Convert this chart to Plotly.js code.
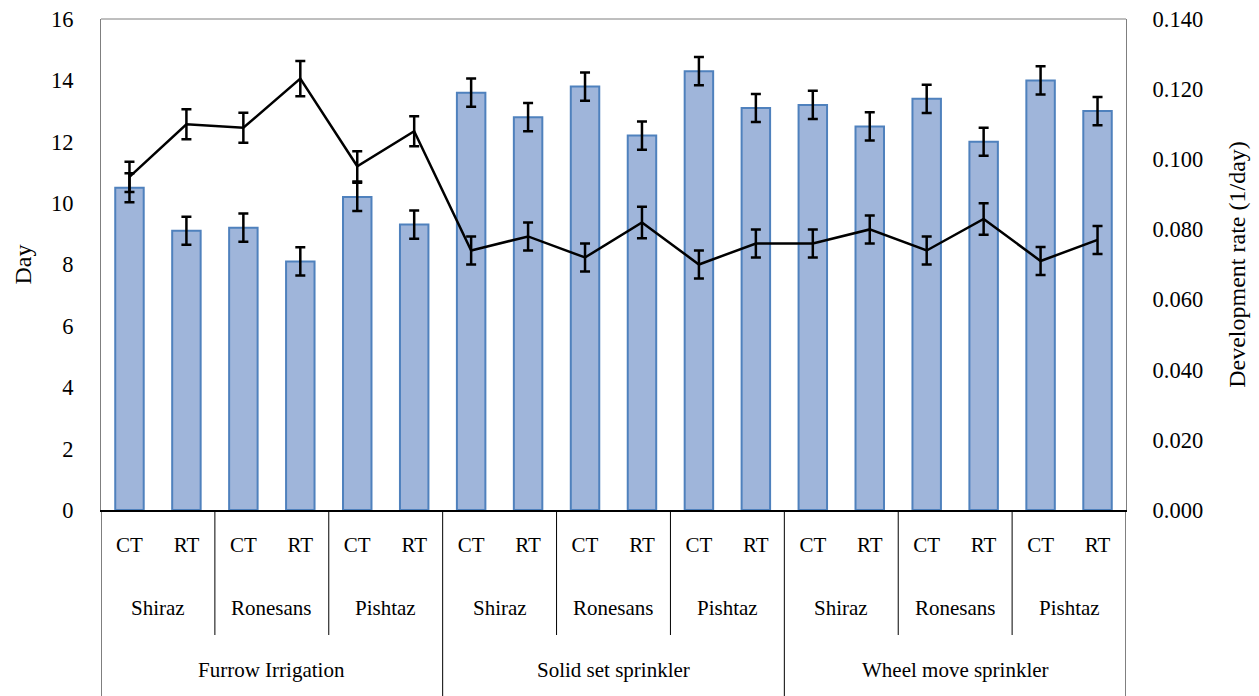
<!DOCTYPE html>
<html>
<head>
<meta charset="utf-8">
<script src="https://cdn.plot.ly/plotly-3.0.1.min.js"></script>
<style>html,body{margin:0;padding:0;background:#fff;}#chart{width:1259px;height:696px;}</style>
</head>
<body>
<div id="chart"></div>
<script>
// ---- data ----
const tillage = ["CT","RT","CT","RT","CT","RT","CT","RT","CT","RT","CT","RT","CT","RT","CT","RT","CT","RT"];
const cultivars = ["Shiraz","Ronesans","Pishtaz","Shiraz","Ronesans","Pishtaz","Shiraz","Ronesans","Pishtaz"];
const irrigation = ["Furrow Irrigation","Solid set sprinkler","Wheel move sprinkler"];
const days = [10.5, 9.1, 9.2, 8.1, 10.2, 9.3, 13.6, 12.8, 13.8, 12.2, 14.3, 13.1, 13.2, 12.5, 13.4, 12.0, 14.0, 13.0];
const daysErr = [0.47, 0.46, 0.46, 0.46, 0.46, 0.46, 0.46, 0.46, 0.46, 0.46, 0.46, 0.46, 0.46, 0.46, 0.46, 0.46, 0.46, 0.46];
const rate = [0.095, 0.110, 0.109, 0.123, 0.098, 0.108, 0.074, 0.078, 0.072, 0.082, 0.070, 0.076, 0.076, 0.080, 0.074, 0.083, 0.071, 0.077];
const rateErr = [0.0043, 0.0043, 0.0043, 0.0050, 0.0043, 0.0043, 0.0040, 0.0040, 0.0040, 0.0045, 0.0040, 0.0040, 0.0040, 0.0040, 0.0040, 0.0045, 0.0040, 0.0040];
const yTicksLeft = [0,2,4,6,8,10,12,14,16];
const yTicksRight = [0,0.02,0.04,0.06,0.08,0.10,0.12,0.14];

const xs = tillage.map((_, i) => i);
const FONT = "Liberation Serif, Times New Roman, serif";
const TICK = 22.5, CAT = 21, TITLE = 24;

const traces = [
  {
    type: "bar", x: xs, y: days, yaxis: "y", width: 0.5,
    marker: {color: "#9FB5DA", line: {color: "#4F81BD", width: 2}},
    error_y: {type: "data", array: daysErr, visible: true, color: "#000", thickness: 2.5, width: 5},
    hoverinfo: "y", showlegend: false
  },
  {
    type: "scatter", mode: "lines", x: xs, y: rate, yaxis: "y2",
    line: {color: "#000", width: 2.5},
    error_y: {type: "data", array: rateErr, visible: true, color: "#000", thickness: 2.5, width: 5},
    showlegend: false
  }
];

// paper-y helpers (plot area: top 19px, bottom 510px)
const plotTop = 19, plotBot = 510, plotH = plotBot - plotTop;
const py = px => (plotBot - px) / plotH;

const shapes = [];
const annotations = [];
const perCult = 2, perIrr = 6;
cultivars.forEach((c, k) => {
  const xc = k * perCult + (perCult - 1) / 2;
  annotations.push({x: xc, y: py(608), xref: "x", yref: "paper", text: c, showarrow: false,
    font: {family: FONT, size: CAT, color: "#000"}, xanchor: "center", yanchor: "middle"});
});
irrigation.forEach((g, k) => {
  const xc = k * perIrr + (perIrr - 1) / 2;
  annotations.push({x: xc, y: py(670), xref: "x", yref: "paper", text: g, showarrow: false,
    font: {family: FONT, size: CAT, color: "#000"}, xanchor: "center", yanchor: "middle"});
});
for (let b = 0; b <= tillage.length; b += perCult) {
  const xb = b - 0.5;
  const full = (b % perIrr === 0);
  shapes.push({type: "line", xref: "x", yref: "paper", x0: xb, x1: xb, y0: 0, y1: full ? py(700) : py(635),
    line: {color: "#000", width: 1}});
}
shapes.push({type: "line", xref: "paper", yref: "paper", x0: 0, x1: 1, y0: 1, y1: 1, line: {color: "#7f7f7f", width: 1}});

const layout = {
  width: 1259, height: 696,
  margin: {l: 101, r: 133, t: 19, b: 186},
  paper_bgcolor: "#fff", plot_bgcolor: "#fff",
  font: {family: FONT, size: TICK, color: "#000"},
  xaxis: {
    range: [-0.5, 17.5], tickmode: "array", tickvals: xs, ticktext: tillage,
    showgrid: false, zeroline: false, showline: true, linecolor: "#000", linewidth: 2,
    ticks: "", ticklabelstandoff: 15, tickfont: {family: FONT, size: CAT, color: "#000"}, fixedrange: true
  },
  yaxis: {
    range: [0, 16], tickmode: "array", tickvals: yTicksLeft,
    showgrid: false, zeroline: false, showline: true, linecolor: "#7f7f7f", linewidth: 1,
    ticks: "", ticklabelstandoff: 22, tickfont: {family: FONT, size: TICK, color: "#000"},
    title: {text: "Day", font: {family: FONT, size: TITLE, color: "#000"}, standoff: 12}
  },
  yaxis2: {
    overlaying: "y", side: "right", range: [0, 0.14], tickmode: "array", tickvals: yTicksRight,
    tickformat: ".3f", showgrid: false, zeroline: false, showline: true, linecolor: "#7f7f7f", linewidth: 1,
    ticks: "", ticklabelstandoff: 21, tickfont: {family: FONT, size: TICK, color: "#000"},
    title: {text: "Development rate (1/day)", font: {family: FONT, size: TITLE, color: "#000"}, standoff: 26}
  },
  shapes: shapes,
  annotations: annotations,
  showlegend: false
};

Plotly.newPlot("chart", traces, layout, {displayModeBar: false, staticPlot: true});
</script>
</body>
</html>
